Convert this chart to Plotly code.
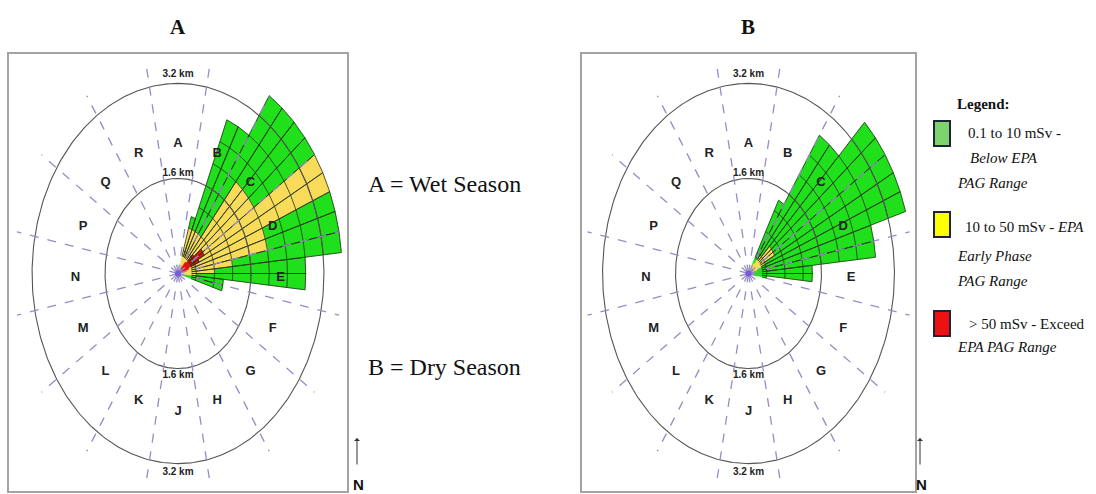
import numpy as np
import plotly.graph_objects as go

# ---------------- data ----------------
sector_labels = ["A", "B", "C", "D", "E", "F", "G", "H", "J", "K", "L", "M", "N", "P", "Q", "R"]
ring_km = [1.6, 3.2]
ring_labels = ["1.6 km", "3.2 km"]

# plume sub-sectors (start bearing in degrees, 5.625 deg wide), extent of dose bands in km
wet_start_deg = [16.875, 22.5, 28.125, 33.75, 39.375, 45.0, 50.625, 56.25, 61.875, 67.5, 73.125, 78.75, 84.375, 90.0, 95.625, 101.25]
wet_outer_km = [1.0, 2.8, 2.8, 3.6, 3.6, 3.6, 3.6, 3.6, 3.6, 3.6, 3.6, 3.6, 2.8, 2.8, 1.0, 1.0]
wet_yellow_km = [0.8, 0.8, 0.8, 0.8, 2.0, 2.0, 2.0, 3.6, 3.6, 2.0, 2.0, 1.2, 0.8, 0.4, 0.0, 0.0]
wet_red_km = [0.0, 0.0, 0.0, 0.0, 0.25, 0.45, 0.65, 0.65, 0.5, 0.25, 0.0, 0.0, 0.0, 0.0, 0.0, 0.0]

dry_start_deg = [28.125, 33.75, 39.375, 45.0, 50.625, 56.25, 61.875, 67.5, 73.125, 78.75, 84.375, 90.0, 95.625]
dry_outer_km = [1.4, 2.8, 2.8, 3.6, 3.6, 3.6, 3.6, 3.6, 2.8, 2.8, 1.4, 1.4, 0.4]
dry_yellow_km = [0.0, 0.2, 0.4, 0.65, 0.65, 0.65, 0.4, 0.2, 0.0, 0.0, 0.0, 0.0, 0.0]
dry_red_km = [0.0, 0.0, 0.0, 0.0, 0.12, 0.12, 0.0, 0.0, 0.0, 0.0, 0.0, 0.0, 0.0]

grid_km = [0.4, 0.8, 1.2, 1.6, 2.0, 2.4, 2.8, 3.2, 3.6]

legend_items = [
    ["0.1 to 10 mSv -", "<i>Below EPA</i>", "<i>PAG Range</i>"],
    ["10 to 50 mSv - <i>EPA</i>", "<i>Early Phase</i>", "<i>PAG Range</i>"],
    ["&gt; 50 mSv - Exceed", "<i>EPA PAG Range</i>"],
]

# ---------------- style ----------------
W, H = 1096, 494
SUB_W = 5.625
SECTOR_W = 360 / len(sector_labels)
GREEN, YELLOW, RED = "#1fe01a", "#f9db5a", "#e01212"
CELL_LINE = "#24341c"
DASH_COL = "#978cc4"
RING_COL = "#555555"
SANS = "Liberation Sans, Arial, sans-serif"
SERIF = "Liberation Serif, Times New Roman, serif"
LABEL_R = 2.25
LABEL_DY = -0.07
DASH_R = 3.6
RADIAL_START = 0.3


def px(x):
    return x / W


def py(y):
    return 1 - y / H


def pol(r, deg):
    t = np.deg2rad(deg)
    return r * np.sin(t), r * np.cos(t)


def cells(starts, outer, yellow, red):
    paths = {GREEN: ([], []), YELLOW: ([], []), RED: ([], [])}
    gx, gy = [], []
    for a0, ro, ry, rr in zip(starts, outer, yellow, red):
        a1 = a0 + SUB_W
        radii = sorted(set([0.0] + [g for g in grid_km if g < ro] + [t for t in (ry, rr) if 0 < t < ro] + [ro]))
        th = np.linspace(a0, a1, 9)
        for r0, r1 in zip(radii[:-1], radii[1:]):
            mid = 0.5 * (r0 + r1)
            col = RED if mid < rr else (YELLOW if mid < ry else GREEN)
            xo, yo = pol(r1, th)
            xi, yi = pol(r0, th[::-1])
            paths[col][0].extend(list(xo) + list(xi) + [xo[0], None])
            paths[col][1].extend(list(yo) + list(yi) + [yo[0], None])
        # outline grid: arcs at band/grid radii and radial edges (kept off the crowded centre)
        for r in radii[1:]:
            if r < RADIAL_START and r != ro:
                continue
            xa_, ya_ = pol(r, th)
            gx.extend(list(xa_) + [None])
            gy.extend(list(ya_) + [None])
        rs = min(RADIAL_START, ro)
        for a in (a0, a1):
            x0_, y0_ = pol(rs, a)
            x1_, y1_ = pol(ro, a)
            gx.extend([x0_, x1_, None])
            gy.extend([y0_, y1_, None])
    return paths, gx, gy


fig = go.Figure()

panels = [
    dict(xa="x", ya="y", starts=wet_start_deg, outer=wet_outer_km, yellow=wet_yellow_km, red=wet_red_km),
    dict(xa="x2", ya="y2", starts=dry_start_deg, outer=dry_outer_km, yellow=dry_yellow_km, red=dry_red_km),
]

for p in panels:
    xa, ya = p["xa"], p["ya"]
    paths, gx, gy = cells(p["starts"], p["outer"], p["yellow"], p["red"])
    for col in (GREEN, YELLOW, RED):
        xs, ys = paths[col]
        if xs:
            fig.add_trace(go.Scatter(x=xs, y=ys, mode="lines", fill="toself", fillcolor=col,
                                     line=dict(color=col, width=0.5), hoverinfo="skip",
                                     xaxis=xa, yaxis=ya))
    fig.add_trace(go.Scatter(x=gx, y=gy, mode="lines", line=dict(color=CELL_LINE, width=0.8),
                             hoverinfo="skip", xaxis=xa, yaxis=ya))
    # rings
    th = np.linspace(0, 360, 361)
    for r in ring_km:
        xr, yr = pol(r, th)
        fig.add_trace(go.Scatter(x=xr, y=yr, mode="lines", line=dict(color=RING_COL, width=1.1),
                                 hoverinfo="skip", xaxis=xa, yaxis=ya))
    # sector boundaries
    dx, dy = [], []
    for k in range(len(sector_labels)):
        a = SECTOR_W / 2 + k * SECTOR_W
        ex, ey = pol(DASH_R, a)
        dx += [0, ex, None]
        dy += [0, ey, None]
    fig.add_trace(go.Scatter(x=dx, y=dy, mode="lines", line=dict(color=DASH_COL, width=1.3, dash="dash"),
                             hoverinfo="skip", xaxis=xa, yaxis=ya))
    # center
    fig.add_trace(go.Scatter(x=[0], y=[0], mode="markers", marker=dict(color="#7a58e0", size=6),
                             hoverinfo="skip", xaxis=xa, yaxis=ya))
    # sector letters
    lx, ly = [], []
    for k in range(len(sector_labels)):
        x_, y_ = pol(LABEL_R, k * SECTOR_W)
        lx.append(x_)
        ly.append(y_ + LABEL_DY)
    fig.add_trace(go.Scatter(x=lx, y=ly, mode="text", text=sector_labels,
                             textfont=dict(family=SANS, size=13, color="#222", weight="bold"),
                             hoverinfo="skip", xaxis=xa, yaxis=ya))
    # ring labels
    fig.add_trace(go.Scatter(x=[0, 0, 0, 0], y=[1.69, -1.71, 3.35, -3.35], mode="text",
                             text=[ring_labels[0], ring_labels[0], ring_labels[1], ring_labels[1]],
                             textfont=dict(family=SANS, size=10, color="#222", weight="bold"),
                             hoverinfo="skip", xaxis=xa, yaxis=ya))

axis_common = dict(showgrid=False, zeroline=False, showticklabels=False, ticks="",
                   showline=True, mirror=True, linecolor="#a3a3a3", linewidth=1.5, fixedrange=True)

ydom = [3 / H, 1 - 54 / H]
yrange = [-(491 - 273.5) / 59.4, (273.5 - 54) / 59.4]

fig.update_layout(
    width=W, height=H, margin=dict(l=0, r=0, t=0, b=0),
    paper_bgcolor="white", plot_bgcolor="white", showlegend=False,
    xaxis=dict(domain=[px(9), px(347)], range=[-(178 - 9) / 45.6, (347 - 178) / 45.6], anchor="y", **axis_common),
    yaxis=dict(domain=ydom, range=yrange, anchor="x", **axis_common),
    xaxis2=dict(domain=[px(582), px(915)], range=[-(748.5 - 582) / 45.6, (915 - 748.5) / 45.6], anchor="y2", **axis_common),
    yaxis2=dict(domain=ydom, range=yrange, anchor="x2", **axis_common),
)

ann = []
# panel titles
for t, x in (("A", 178), ("B", 748)):
    ann.append(dict(x=px(x), y=py(27), xref="paper", yref="paper", text="<b>%s</b>" % t, showarrow=False,
                    font=dict(family=SERIF, size=21, color="#111"), xanchor="center", yanchor="middle"))
# season texts
ann.append(dict(x=px(366), y=py(184), xref="paper", yref="paper", text="A = Wet Season", showarrow=False,
                font=dict(family=SERIF, size=24, color="#111"), xanchor="left", yanchor="middle"))
ann.append(dict(x=px(366), y=py(367), xref="paper", yref="paper", text="B = Dry Season", showarrow=False,
                font=dict(family=SERIF, size=24, color="#111"), xanchor="left", yanchor="middle"))
# north arrows
for x in (357, 920):
    ann.append(dict(x=px(x), y=py(438), xref="paper", yref="paper", text="", showarrow=True,
                    ax=0, ay=28, arrowhead=1, arrowsize=1, arrowwidth=1, arrowcolor="#333"))
    ann.append(dict(x=px(x + 1), y=py(484), xref="paper", yref="paper", text="<b>N</b>", showarrow=False,
                    font=dict(family=SANS, size=15, color="#111"), xanchor="center", yanchor="middle"))
# legend
ann.append(dict(x=px(955), y=py(104), xref="paper", yref="paper", text="<b>Legend:</b>", showarrow=False,
                font=dict(family=SERIF, size=15, color="#111"), xanchor="left", yanchor="middle"))
legend_rows = [
    [(966, 133), (968, 158), (955, 183)],
    [(963, 227), (955, 256), (955, 281)],
    [(967, 324), (955, 347)],
]
for lines, rows in zip(legend_items, legend_rows):
    for txt, (x, y) in zip(lines, rows):
        ann.append(dict(x=px(x), y=py(y), xref="paper", yref="paper", text=txt, showarrow=False,
                        font=dict(family=SERIF, size=15, color="#111"), xanchor="left", yanchor="middle"))
fig.update_layout(annotations=ann)

shapes = []
for col, (y0, y1) in zip(["#7fd36e", "#ffff00", "#ee1111"], [(121, 146), (212, 237), (311, 336)]):
    shapes.append(dict(type="rect", xref="paper", yref="paper", x0=px(934), x1=px(950), y0=py(y1), y1=py(y0),
                       fillcolor=col, line=dict(color="#1b2533", width=2)))
fig.update_layout(shapes=shapes)

fig.write_html("out.html")
